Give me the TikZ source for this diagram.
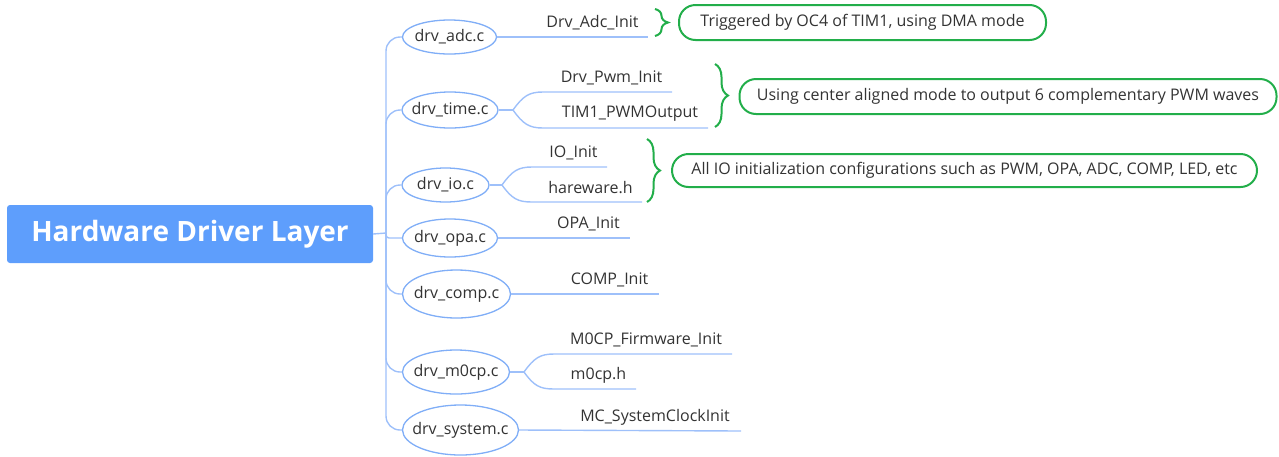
\documentclass[tikz,border=0pt]{standalone}
\usepackage{fontspec}
\setmainfont{Open Sans}
\usetikzlibrary{shapes.geometric,decorations.pathreplacing}
\definecolor{txt}{HTML}{333333}
\definecolor{rootblue}{HTML}{5E9EFC}
\definecolor{ellblue}{HTML}{80AEF7}
\definecolor{linkblue}{HTML}{9EC0FA}
\definecolor{notegreen}{HTML}{22AE4A}
\begin{document}
\begin{tikzpicture}[x=1pt,y=-1pt,
  every node/.style={inner sep=0pt,text=txt},
  font=\fontsize{16}{18}\selectfont,
  root/.style={fill=rootblue,rounded corners=3pt,minimum width=366pt,minimum height=58pt,
    text=white,font=\fontsize{28}{32}\selectfont\bfseries},
  file/.style 2 args={ellipse,draw=ellblue,line width=1.3pt,fill=white,
    inner xsep=-14pt,inner ysep=-4pt,minimum width=#1,minimum height=#2},
  leaf/.style={anchor=center},
  link/.style={draw=linkblue,line width=1.4pt},
  note/.style={draw=notegreen,line width=2pt,rounded corners=16.5pt},
  curly/.style={draw=notegreen,line width=2pt,decorate,
    decoration={brace,amplitude=13pt}}]
\useasboundingbox (0,0) rectangle (1279,456);

% central topic
\node[root] (root) at (190,234) {Hardware Driver Layer};

% source files
\node[file={94pt}{34pt}]  (adc)  at (449.5,37)  {drv\_adc.c};
\node[file={96pt}{36pt}]  (time) at (450,110)   {drv\_time.c};
\node[file={87pt}{34pt}]  (io)   at (445.5,185) {drv\_io.c};
\node[file={95pt}{38pt}]  (opa)  at (450,238)   {drv\_opa.c};
\node[file={108pt}{48pt}] (comp) at (456.5,294) {drv\_comp.c};
\node[file={107pt}{44pt}] (mcp)  at (456,372)   {drv\_m0cp.c};
\node[file={116pt}{50pt}] (sys)  at (460.5,430) {drv\_system.c};

% trunk from the central topic to every file
\coordinate (tr) at (386,233);
\draw[link] (root.east) -- (tr);
\foreach \c in {adc,time,io,comp,mcp,sys}
  \draw[link,rounded corners=14pt] (tr) |- (\c.west);
\draw[link,rounded corners=3pt] (tr) |- (opa.west);

% functions and headers
\node[leaf] (l1) at (592.5,23)  {Drv\_Adc\_Init};
\node[leaf] (l2) at (611.5,78)  {Drv\_Pwm\_Init};
\node[leaf] (l3) at (630,114)   {TIM1\_PWMOutput};
\node[leaf] (l4) at (573.5,153) {IO\_Init};
\node[leaf] (l5) at (590.5,188) {hareware.h};
\node[leaf] (l6) at (588.5,224) {OPA\_Init};
\node[leaf] (l7) at (609.5,280) {COMP\_Init};
\node[leaf] (l8) at (646,340)   {M0CP\_Firmware\_Init};
\node[leaf] (l9) at (598.5,375) {m0cp.h};
\node[leaf] (l10) at (655,417)  {MC\_SystemClockInit};

% underline ends
\coordinate (u1) at (648,37);
\coordinate (u2) at (672,92);
\coordinate (u3) at (708,128);
\coordinate (u4) at (607,167);
\coordinate (u5) at (642,202);
\coordinate (u6) at (630,238);
\coordinate (u7) at (659,294);
\coordinate (u8) at (732,354);
\coordinate (u9) at (636,389);
\coordinate (u10) at (741,431);

% fork points
\coordinate (f2) at (513,110);
\coordinate (f4) at (502,185);
\coordinate (f8) at (524,372);

\draw[link] (adc.east) -- (u1);
\draw[link] (time.east) -- (f2);
\draw[link] (f2) .. controls +(10,-14) and +(-14,0) .. (543,92) -- (u2);
\draw[link] (f2) .. controls +(10,14) and +(-14,0) .. (543,128) -- (u3);
\draw[link] (io.east) -- (f4);
\draw[link] (f4) .. controls +(10,-14) and +(-14,0) .. (532,167) -- (u4);
\draw[link] (f4) .. controls +(10,14) and +(-14,0) .. (532,202) -- (u5);
\draw[link] (opa.east) -- (u6);
\draw[link] (comp.east) -- (u7);
\draw[link] (mcp.east) -- (f8);
\draw[link] (f8) .. controls +(10,-14) and +(-14,0) .. (554,354) -- (u8);
\draw[link] (f8) .. controls +(10,14) and +(-14,0) .. (554,389) -- (u9);
\draw[link] (sys.east) -- (u10);

% notes
\node[note,minimum width=367pt,minimum height=35pt] (n1) at (862.5,22.5)
  {Triggered by OC4 of TIM1, using DMA mode};
\node[note,minimum width=537pt,minimum height=35pt] (n2) at (1008,96.5)
  {Using center aligned mode to output 6 complementary PWM waves};
\node[note,minimum width=585pt,minimum height=33pt] (n3) at (964.5,170.5)
  {All IO initialization configurations such as PWM, OPA, ADC, COMP, LED, etc};

% braces grouping the items of each note
\coordinate (b1t) at (655,9);   \coordinate (b1b) at (655,36);
\coordinate (b2t) at (715,64);  \coordinate (b2b) at (715,127);
\coordinate (b3t) at (647,139); \coordinate (b3b) at (647,202);
\draw[curly] (b1t) -- (b1b);
\draw[curly] (b2t) -- (b2b);
\draw[curly] (b3t) -- (b3b);
\end{tikzpicture}
\end{document}
